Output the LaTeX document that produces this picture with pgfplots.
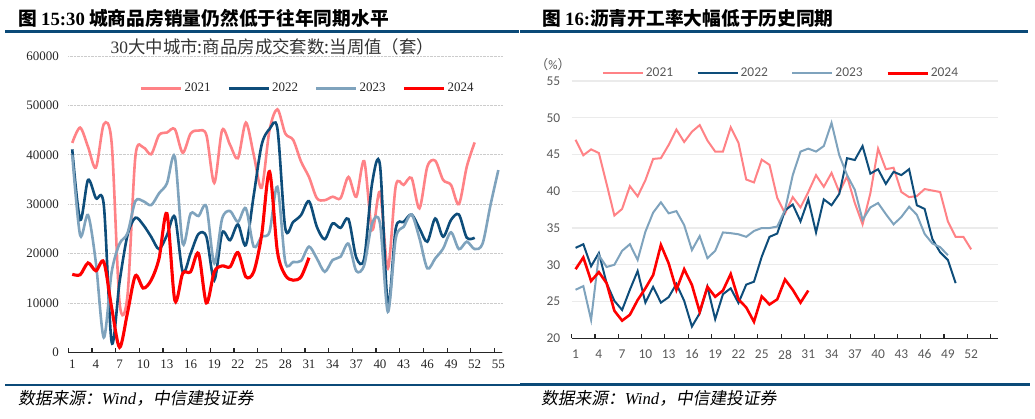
\documentclass[border=0pt]{standalone}
\usepackage{fontspec}
\setmainfont{Liberation Serif}
\newfontfamily\cjk{Noto Sans CJK SC}
\newfontfamily\cjkit[FakeSlant=0.18]{Noto Sans CJK SC}
\newfontfamily\sansf{Carlito}
\usepackage{pgfplots}
\usepackage{pgfplotstable}
\pgfplotsset{compat=1.18}
\definecolor{c21}{HTML}{FF8286}
\definecolor{c22}{HTML}{0E4D7A}
\definecolor{c23}{HTML}{7FA3BD}
\definecolor{c24}{HTML}{FF0000}
\definecolor{rulec}{HTML}{0B4A78}
\definecolor{tgray}{HTML}{595959}

\pgfplotstableread{
w v
1 42400
2 45500
3 41600
4 37400
5 46200
6 42300
7 10000
8 11500
9 39600
10 41500
11 40100
12 44000
13 44500
14 45200
15 40400
16 44300
17 44900
18 44000
19 34300
20 45000
21 42000
22 39300
23 46500
24 40000
25 33300
26 45000
27 49200
28 44300
29 43000
30 38600
31 35500
32 31200
33 30800
34 31500
35 31200
36 35500
37 31500
38 38700
39 24750
40 32500
41 17000
42 33700
43 33900
44 35300
45 29150
46 37600
47 38800
48 34900
49 33900
50 30000
51 37600
52 42500
}\LA

\pgfplotstableread{
w v
1 41100
2 26800
3 34900
4 31200
5 29800
6 2000
7 14300
8 23700
9 27250
10 25800
11 23400
12 20900
13 23700
14 27450
15 16300
16 20000
17 23950
18 23400
19 14600
20 24200
21 22700
22 25900
23 21700
24 31800
25 42000
26 45200
27 45300
28 25100
29 26400
30 27800
31 30600
32 25400
33 22900
34 26100
35 25200
36 27000
37 19150
38 19000
39 34200
40 37900
41 9600
42 25100
43 26400
44 27900
45 25100
46 22400
47 27100
48 23400
49 26800
50 27900
51 23200
52 23200
}\LB

\pgfplotstableread{
w v
1 40000
2 23700
3 27800
4 18100
5 3000
6 16300
7 22000
8 24100
9 30600
10 30600
11 29800
12 32200
13 34200
14 39600
15 22000
16 28100
17 27600
18 29500
19 18000
20 27100
21 28600
22 26400
23 29150
24 21400
25 23400
26 24400
27 33500
28 18300
29 18300
30 18500
31 21400
32 19000
33 16300
34 18700
35 19350
36 22000
37 16450
38 17650
39 26100
40 26100
41 8200
42 23100
43 25400
44 27900
45 23100
46 17000
47 19000
48 21000
49 24300
50 20900
51 22400
52 20900
53 22000
54 29800
55 36900
}\LC

\pgfplotstableread{
w v
1 15800
2 15700
3 18100
4 16500
5 18300
6 9000
7 1000
8 8000
9 15500
10 13000
11 14600
12 19000
13 28100
14 10500
15 16000
16 16300
17 20000
18 10000
19 16300
20 17500
21 17300
22 20200
23 15300
24 16300
25 23700
26 36600
27 20400
28 15600
29 14600
30 15300
31 19150
}\LD

\pgfplotstableread{
w v
1 47.0
2 44.9
3 45.7
4 45.2
5 41.0
6 36.7
7 37.6
8 40.7
9 39.3
10 41.5
11 44.4
12 44.5
13 46.3
14 48.4
15 46.7
16 48.1
17 49.0
18 46.9
19 45.4
20 45.4
21 48.7
22 46.6
23 41.6
24 41.2
25 44.3
26 43.6
27 39.1
28 37.0
29 39.2
30 37.8
31 39.9
32 42.2
33 40.6
34 42.5
35 39.9
36 42.0
37 38.4
38 35.5
39 39.7
40 45.8
41 43.0
42 43.2
43 39.9
44 39.2
45 39.35
46 40.3
47 40.1
48 39.9
49 35.9
50 33.8
51 33.8
52 32.1
}\RA

\pgfplotstableread{
w v
1 32.3
2 32.8
3 29.8
4 31.6
5 27.5
6 25.1
7 23.85
8 26.6
9 29.15
10 24.85
11 27.0
12 24.85
13 25.6
14 27.4
15 25.1
16 21.6
17 23.4
18 27.0
19 22.6
20 26.0
21 26.8
22 24.8
23 27.3
24 27.7
25 31.1
26 33.8
27 34.25
28 37.4
29 38.2
30 35.9
31 38.9
32 34.4
33 38.9
34 38.1
35 39.65
36 44.5
37 44.25
38 46.15
39 42.4
40 43.0
41 41.0
42 42.65
43 42.2
44 43.0
45 38.1
46 37.6
47 33.5
48 31.7
49 30.65
50 27.5
}\RB

\pgfplotstableread{
w v
1 26.6
2 27.1
3 22.5
4 31.3
5 29.7
6 30.0
7 31.9
8 32.8
9 30.65
10 34.5
11 37.1
12 38.5
13 37.0
14 37.3
15 35.4
16 32.0
17 33.9
18 30.9
19 31.9
20 34.4
21 34.3
22 34.15
23 33.8
24 34.6
25 35.0
26 35.0
27 35.2
28 37.45
29 42.2
30 45.4
31 45.8
32 45.4
33 46.15
34 49.3
35 44.9
36 42.2
37 40.2
38 36.1
39 37.8
40 38.4
41 36.9
42 35.5
43 36.5
44 37.9
45 36.8
46 34.2
47 32.9
48 32.4
49 31.3
}\RC

\pgfplotstableread{
w v
1 29.4
2 31.0
3 27.8
4 29.0
5 27.5
6 23.75
7 22.4
8 23.2
9 25.2
10 26.8
11 28.6
12 32.7
13 30.2
14 26.6
15 29.4
16 27.25
17 23.6
18 27.0
19 25.65
20 26.5
21 28.75
22 25.3
23 24.2
24 22.25
25 25.7
26 24.6
27 25.3
28 28.0
29 26.6
30 24.85
31 26.5
}\RD

\begin{document}
\begin{tikzpicture}
\useasboundingbox (0,0) rectangle (1035bp,419bp);
% headers
\node[anchor=west,inner sep=0pt] at (18bp,401bp) {\fontsize{18.8}{18.8}\selectfont\cjk\bfseries 图 {\rmfamily\bfseries 15:30} 城商品房销量仍然低于往年同期水平};
\node[anchor=west,inner sep=0pt] at (542bp,401bp) {\fontsize{18.8}{18.8}\selectfont\cjk\bfseries 图 {\rmfamily\bfseries 16:}沥青开工率大幅低于历史同期};
\draw[rulec,line width=3bp] (5bp,387bp) -- (519bp,387bp);
\draw[rulec,line width=3bp] (520bp,387bp) -- (1028bp,387bp);
\draw[rulec,line width=2bp] (5bp,34bp) -- (520bp,34bp);
\draw[rulec,line width=3bp] (520bp,34bp) -- (1030bp,34bp);
\node[anchor=west,inner sep=0pt] at (18bp,21bp) {\fontsize{16.8}{16.8}\selectfont\cjkit 数据来源：{\rmfamily\itshape Wind}，中信建投证券};
\node[anchor=west,inner sep=0pt] at (541bp,21bp) {\fontsize{16.8}{16.8}\selectfont\cjkit 数据来源：{\rmfamily\itshape Wind}，中信建投证券};
% left subtitle
\node[inner sep=0pt,text=black!80] at (272.5bp,372bp) {\fontsize{17.5}{17.5}\selectfont 30\cjk{大中城市}:\cjk{商品房成交套数}:\cjk{当周值（套）}};
% right (%)
\node[inner sep=0pt,text=tgray] at (553bp,354bp) {\fontsize{13}{13}\selectfont\cjk （\sansf\%\cjk ）};

\begin{axis}[
  at={(68.3bp,66.7bp)}, anchor=south west,
  scale only axis, width=434bp, height=296.3bp,
  xmin=0.5, xmax=55.5, ymin=0, ymax=60000,
  separate axis lines,
  axis x line*=bottom, axis y line*=left,
  y axis line style={draw=none},
  x axis line style={black!85,line width=1.3bp},
  scaled y ticks=false,
  ytick={0,10000,20000,30000,40000,50000,60000},
  yticklabels={0,10000,20000,30000,40000,50000,60000},
  ytick style={draw=none},
  ymajorgrids, grid style={densely dotted,black!20,line width=0.8bp},
  xtick={0.5,3.5,...,54.5},
  xticklabels={1,4,7,10,13,16,19,22,25,28,31,34,37,40,43,46,49,52,55},
  x tick label style={xshift=3.95bp, yshift=-4bp},
  tick align=inside, major tick length=4.5bp,
  xtick style={black!85,line width=1.1bp},
  tick label style={font=\fontsize{13}{13}\selectfont, text=black!85},
  y tick label style={xshift=-6bp},
  legend columns=4,
  legend style={draw=none,fill=none,at={(0.552,0.891)},anchor=center,
    font=\fontsize{13}{13}\selectfont, text=black!85,
    nodes={inner sep=2bp},
    /tikz/every even column/.append style={column sep=15bp}},
  legend image code/.code={\draw[#1] (0bp,0bp) -- (40bp,0bp);},
]
\addplot[c21,line width=2.6bp,smooth] table[x=w,y=v]{\LA};
\addlegendentry{2021}
\addplot[c22,line width=2.6bp,smooth] table[x=w,y=v]{\LB};
\addlegendentry{2022}
\addplot[c23,line width=2.6bp,smooth] table[x=w,y=v]{\LC};
\addlegendentry{2023}
\addplot[c24,line width=3.1bp,smooth] table[x=w,y=v]{\LD};
\addlegendentry{2024}
\end{axis}

\begin{axis}[
  at={(571.7bp,80.7bp)}, anchor=south west,
  scale only axis, width=426.6bp, height=257.3bp,
  xmin=0.5, xmax=55.5, ymin=20, ymax=55,
  separate axis lines,
  axis x line*=bottom, axis y line*=left,
  y axis line style={draw=none},
  x axis line style={black!85,line width=1.3bp},
  ytick={20,25,30,35,40,45,50,55},
  yticklabels={20,25,30,35,40,45,50,55},
  ytick style={draw=none},
  ymajorgrids, grid style={black!8,line width=1.3bp},
  xtick={0.5,3.5,...,54.5},
  xticklabels={1,4,7,10,13,16,19,22,25,28,31,34,37,40,43,46,49,52,{}},
  x tick label style={xshift=3.9bp, yshift=-8bp},
  tick align=inside, major tick length=4.5bp,
  xtick style={black!85,line width=1.1bp},
  tick label style={font=\fontsize{13.5}{13.5}\selectfont\sansf, text=tgray},
  y tick label style={xshift=-8bp},
  legend columns=4,
  legend style={draw=none,fill=none,at={(0.4906,1.030)},anchor=center,
    font=\fontsize{13.5}{13.5}\selectfont\sansf, text=tgray,
    nodes={inner sep=2bp},
    /tikz/every even column/.append style={column sep=21.5bp}},
  legend image code/.code={\draw[#1] (0bp,0bp) -- (40bp,0bp);},
]
\addplot[c21,line width=2bp] table[x=w,y=v]{\RA};
\addlegendentry{2021}
\addplot[c22,line width=2bp] table[x=w,y=v]{\RB};
\addlegendentry{2022}
\addplot[c23,line width=2bp] table[x=w,y=v]{\RC};
\addlegendentry{2023}
\addplot[c24,line width=2.6bp] table[x=w,y=v]{\RD};
\addlegendentry{2024}
\end{axis}
\end{tikzpicture}
\end{document}
